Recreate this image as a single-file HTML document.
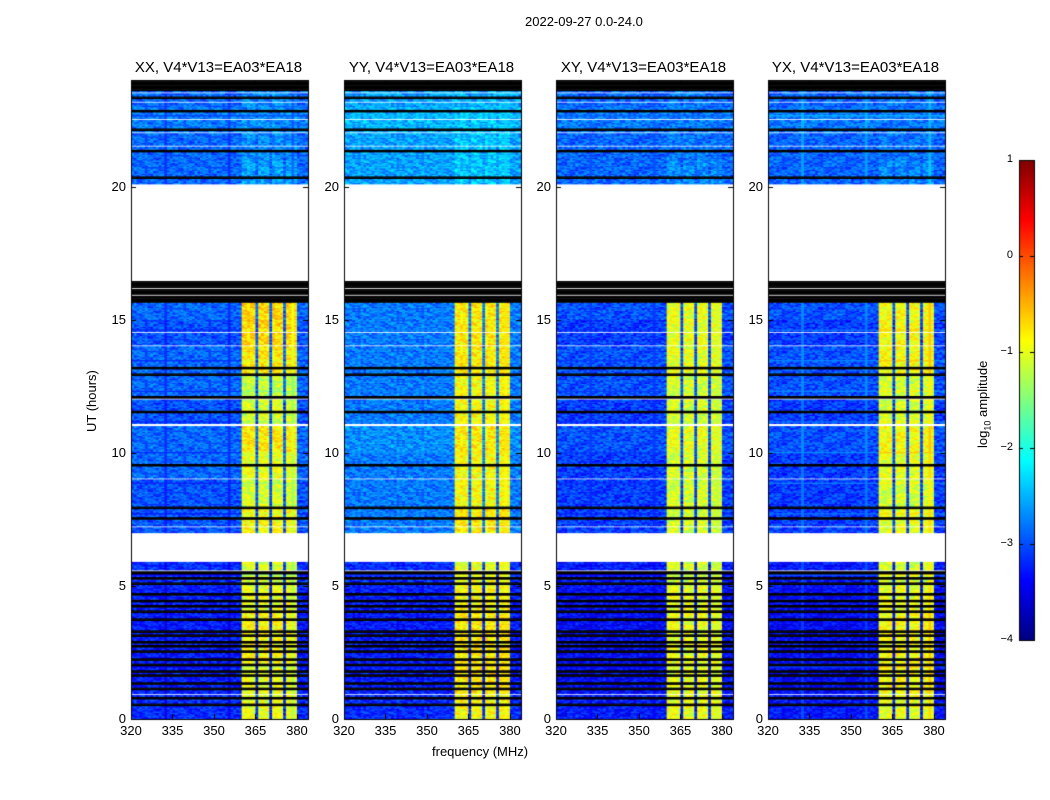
<!DOCTYPE html>
<html><head><meta charset="utf-8">
<style>
body{margin:0;background:#fff;width:1050px;height:800px;overflow:hidden;font-family:"Liberation Sans","DejaVu Sans",sans-serif;}
#wrap{position:relative;width:1050px;height:800px;}
.t{position:absolute;font-size:13px;color:#000;white-space:nowrap;}
.pt{position:absolute;font-size:15px;white-space:nowrap;transform:translateX(-50%);}
canvas{position:absolute;left:0;top:0;}
</style></head>
<body><div id="wrap">
<canvas id="cv" width="1050" height="800"></canvas>
<div class="t" style="left:525px;top:14px;">2022-09-27 0.0-24.0</div>
<div class="t" style="left:432px;top:744px;">frequency (MHz)</div>
<div class="t" style="left:84px;top:432px;transform:rotate(-90deg);transform-origin:left top;">UT (hours)</div>
<div class="t" style="left:975px;top:448px;transform:rotate(-90deg);transform-origin:left top;">log<sub style="font-size:9px">10</sub> amplitude</div>
<div id="labels"></div>
</div>
<script>
// ---- data ----
const panelTitles=["XX, V4*V13=EA03*EA18","YY, V4*V13=EA03*EA18","XY, V4*V13=EA03*EA18","YX, V4*V13=EA03*EA18"];
const xTicks=[320,335,350,365,380];
const yTicks=[0,5,10,15,20];
const cbTicks=[1,0,-1,-2,-3,-4];
const cbLabels=["1","0","\u22121","\u22122","\u22123","\u22124"];
const baseXX=[-3.2,-3.3,-3.3,-3.3,-3.3,-3.2,-3.1,-3.0,-3.0,-2.9,-2.9,-3.0,-2.9,-2.9,-3.0,-2.9,-3.0,-3.0,-3.0,-3.0,-2.9,-2.9,-2.8,-2.9];
const baseYY=[-3.2,-3.3,-3.3,-3.3,-3.3,-3.2,-3.0,-2.8,-2.8,-2.8,-2.7,-2.8,-2.8,-2.8,-2.8,-2.8,-2.9,-2.9,-2.9,-2.9,-2.6,-2.6,-2.5,-2.6];
const baseXY=[-3.3,-3.4,-3.4,-3.4,-3.4,-3.3,-3.2,-3.1,-3.1,-3.1,-3.0,-3.1,-3.0,-3.0,-3.1,-3.0,-3.1,-3.1,-3.1,-3.1,-2.9,-2.9,-2.8,-2.9];
const baseYX=[-3.3,-3.4,-3.4,-3.4,-3.4,-3.3,-3.2,-3.1,-3.1,-3.1,-3.0,-3.1,-3.0,-3.0,-3.1,-3.0,-3.1,-3.1,-3.1,-3.1,-2.9,-2.9,-2.8,-2.9];
const bandXX=[-1.0,-1.0,-0.9,-0.9,-1.0,-1.1,-1.1,-0.9,-1.1,-1.0,-0.8,-1.1,-1.2,-0.8,-0.7,-0.7,-1.0,-1.0,-1.0,-1.0,-2.6,-2.7,-2.7,-2.7];
const bandYY=[-0.9,-0.8,-0.8,-0.8,-0.9,-1.0,-1.0,-0.8,-0.9,-0.9,-0.8,-0.9,-0.9,-0.8,-0.8,-0.8,-1.0,-1.0,-1.0,-1.0,-2.4,-2.4,-2.4,-2.5];
const bandXY=[-1.0,-1.0,-1.0,-1.0,-1.0,-1.1,-1.1,-1.1,-1.1,-1.1,-1.0,-1.1,-1.1,-1.0,-1.0,-1.0,-1.0,-1.0,-1.0,-1.0,-2.7,-2.8,-2.8,-2.8];
const bandYX=[-1.0,-0.9,-0.9,-0.9,-1.0,-1.1,-1.1,-1.0,-1.1,-1.0,-0.9,-1.1,-1.1,-0.9,-0.9,-0.9,-1.0,-1.0,-1.0,-1.0,-2.7,-2.8,-2.8,-2.8];
const bandStart=[360,360,360,360];
const bandEnd=[380,380,380,380];
const bandGaps=[365,370,375];
const whiteIntervals=[[5.88,7.0],[16.45,20.1]];
const blackIntervals=[[15.65,16.45],[23.6,24]];
const blackLines=[0.5,0.75,1.1,1.3,1.6,1.75,2.0,2.2,2.5,2.7,2.9,3.1,3.3,3.7,4.0,4.2,4.4,4.65,5.1,5.3,5.45,7.5,7.9,9.5,11.5,12.1,12.9,13.2,20.3,21.3,22.1,22.8,23.3];
const whiteLines=[0.9,5.6,7.2,9.0,11.0,11.05,11.1,12.0,14.0,14.5,15.9,16.2,21.5,22.0,22.5,23.2,23.5];
const texture=[0.2,-0.25,0.05,-0.1,0.3,-0.2,0.0,0.12,-0.3,0.18,-0.05,0.25,-0.15,0.08,-0.28,0.1,0.22,-0.12,0.02,-0.22,0.15,-0.08,0.28];
const bases=[baseXX,baseYY,baseXY,baseYX];
const bands=[bandXX,bandYY,bandXY,bandYX];
// ---- layout ----
const panelX=[131,344,556,768], panelW=177, yTop=80, yBot=719;
const fMin=320, fMax=384, hMin=0, hMax=24;
function xs(p,f){return panelX[p]+(f-fMin)/(fMax-fMin)*panelW;}
function ys(h){return yBot-(h-hMin)/(hMax-hMin)*(yBot-yTop);}
function jet(v){let t=Math.max(0,Math.min(1,(v+4)/5));
 let r=Math.min(1,Math.max(0,1.5-Math.abs(4*t-3))),g=Math.min(1,Math.max(0,1.5-Math.abs(4*t-2))),b=Math.min(1,Math.max(0,1.5-Math.abs(4*t-1)));
 return `rgb(${Math.round(r*255)},${Math.round(g*255)},${Math.round(b*255)})`;}
const cv=document.getElementById('cv'),ctx=cv.getContext('2d');
const dh=0.05, nRows=Math.round(24/dh);
const blackRows=new Set(), whiteRows=new Set();
blackLines.forEach(a=>{const r=Math.floor(a/dh);blackRows.add(r);blackRows.add(r+1);});
whiteLines.forEach(a=>{const r=Math.floor(a/dh);whiteRows.add(r);});
function inI(h,list){return list.some(a=>h>=a[0]&&h<a[1]);}
for(let p=0;p<4;p++){
 for(let ri=0;ri<nRows;ri++){
  const h=ri*dh, hc=h+dh/2;
  if(inI(hc,whiteIntervals)||whiteRows.has(ri)) continue;
  const y1=ys(h+dh),y0=ys(h);
  if(inI(hc,blackIntervals)||blackRows.has(ri)){ctx.fillStyle='#000';ctx.fillRect(panelX[p],y1,panelW,y0-y1+0.5);continue;}
  const hi=Math.min(23,Math.floor(hc));
  for(let f=fMin;f<fMax;f++){
   let v=bases[p][hi];
   if(f>=bandStart[p]&&f<bandEnd[p]&&!bandGaps.includes(f)) v=bands[p][hi];
   v+=texture[(ri*13+f*7+ri*f+p)%texture.length];
   ctx.fillStyle=jet(v);
   const x0=xs(p,f),x1=xs(p,f+1);
   ctx.fillRect(x0,y1,x1-x0+0.5,y0-y1+0.5);
  }
 }
 ctx.strokeStyle='#000';ctx.lineWidth=1;
 ctx.strokeRect(panelX[p]+0.5,yTop+0.5,panelW,yBot-yTop);
 ctx.beginPath();
 xTicks.forEach(t=>{const x=Math.round(xs(p,t))+0.5;ctx.moveTo(x,yBot);ctx.lineTo(x,yBot-5);ctx.moveTo(x,yTop);ctx.lineTo(x,yTop+5);});
 yTicks.forEach(t=>{const y=Math.round(ys(t))+0.5;ctx.moveTo(panelX[p],y);ctx.lineTo(panelX[p]+5,y);ctx.moveTo(panelX[p]+panelW,y);ctx.lineTo(panelX[p]+panelW-5,y);});
 ctx.stroke();
}
const cbX=1019,cbW=15,cbT=160,cbB=640;
for(let y=cbT;y<cbB;y++){ctx.fillStyle=jet(1-(y-cbT)/(cbB-cbT)*5);ctx.fillRect(cbX,y,cbW,1);}
ctx.strokeRect(cbX+0.5,cbT+0.5,cbW,cbB-cbT);
ctx.beginPath();
cbTicks.forEach(v=>{const y=Math.round(cbT+(1-v)/5*(cbB-cbT))+0.5;ctx.moveTo(cbX,y);ctx.lineTo(cbX+4,y);ctx.moveTo(cbX+cbW,y);ctx.lineTo(cbX+cbW-4,y);});
ctx.stroke();
const L=document.getElementById('labels');
function lab(txt,x,y,cls,name,extra){const d=document.createElement('div');d.className=cls;d.textContent=txt;d.style.left=x+'px';d.style.top=y+'px';if(extra)d.style.cssText+=extra;


L.appendChild(d);}
for(let p=0;p<4;p++){
 lab(panelTitles[p],panelX[p]+panelW/2-1,59,'pt','panel-title');
 xTicks.forEach(t=>lab(String(t),xs(p,t),723,'t','x-tick-label','transform:translateX(-50%)'));
 yTicks.forEach(t=>lab(String(t),panelX[p]-5,ys(t)-8,'t','y-tick-label','transform:translateX(-100%)'));
}
cbTicks.forEach((v,i)=>lab(cbLabels[i],1013,cbT+(1-v)/5*(cbB-cbT)-7,'t','colorbar-tick-label','font-size:11px;transform:translateX(-100%)'));
</script>
</body></html>
